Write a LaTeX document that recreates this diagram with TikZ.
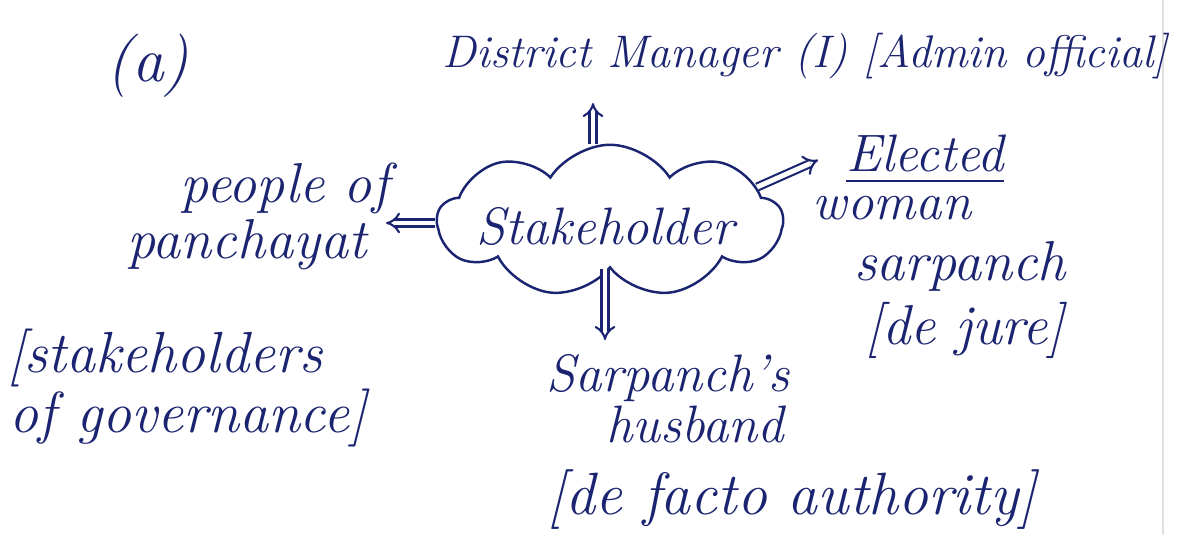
\documentclass[tikz,border=0pt]{standalone}
\usetikzlibrary{shapes.symbols,arrows.meta}
\definecolor{ink}{HTML}{1B2470}
\tikzset{
  hand/.style={text=ink, inner sep=0pt, font=\itshape\fontsize{30}{34}\selectfont},
  big/.style={hand, font=\itshape\fontsize{36}{40}\selectfont},
  dbl/.style={draw=ink, line width=1.2pt, double, double distance=2.8pt, -{Implies[scale=1.5]}},
}
\begin{document}
\begin{tikzpicture}[x=0.02cm, y=-0.02cm]
  \useasboundingbox (0,0) rectangle (1195,535);
  % paper edge
  \draw[black!12, line width=0.6pt] (1163,0) -- (1163,535);

  \node[big] (lbl) at (148,66) {(a)};

  % central cloud
  \node[cloud, cloud puffs=9, cloud puff arc=115, aspect=2.3, draw=ink, line width=1.4pt,
        minimum width=6.9cm, minimum height=3.05cm, inner sep=0pt] (cloud) at (610,221) {};
  \node[hand] (stk) at (605,226) {Stakeholder};

  % top: district manager
  \node[hand, font=\itshape\fontsize{26}{30}\selectfont] (dm) at (805,56) {District Manager (I) [Admin official]};
  \coordinate (tipDM) at (593,103);
  \draw[dbl] (cloud.north -| tipDM) -- (tipDM);

  % right: elected woman sarpanch
  \node[hand] (el1) at (925,153) {Elected};
  \draw[ink, line width=1.3pt] ([yshift=-5pt]el1.south west) -- ([yshift=-5pt]el1.south east);
  \node[hand] (el2) at (892,208) {woman};
  \node[hand, font=\itshape\fontsize{32}{36}\selectfont] (el3) at (960,266) {sarpanch};
  \node[hand, font=\itshape\fontsize{32}{36}\selectfont] (el4) at (965,330) {[de jure]};
  \coordinate (tipEl) at (818,160);
  \draw[dbl] (cloud.13) -- (tipEl);

  % left: people of panchayat
  \node[hand, font=\itshape\fontsize{32}{36}\selectfont] (pp1) at (285,188) {people of};
  \node[hand, font=\itshape\fontsize{32}{36}\selectfont] (pp2) at (247,245) {panchayat};
  \node[hand, font=\itshape\fontsize{33}{36}\selectfont] (pp3) at (165,358) {[stakeholders};
  \node[hand, font=\itshape\fontsize{33}{36}\selectfont] (pp4) at (188,418) {of governance]};
  \coordinate (tipPP) at (386,223);
  \draw[dbl] (cloud.west |- tipPP) -- (tipPP);

  % bottom: sarpanch's husband
  \node[hand] (sh1) at (668,378) {Sarpanch's};
  \node[hand] (sh2) at (695,424) {husband};
  \node[hand, font=\itshape\fontsize{34}{38}\selectfont] (sh3) at (792,500) {[de facto authority]};
  \coordinate (tipSH) at (605,340);
  \draw[dbl] (cloud.south -| tipSH) -- (tipSH);
\end{tikzpicture}
\end{document}
